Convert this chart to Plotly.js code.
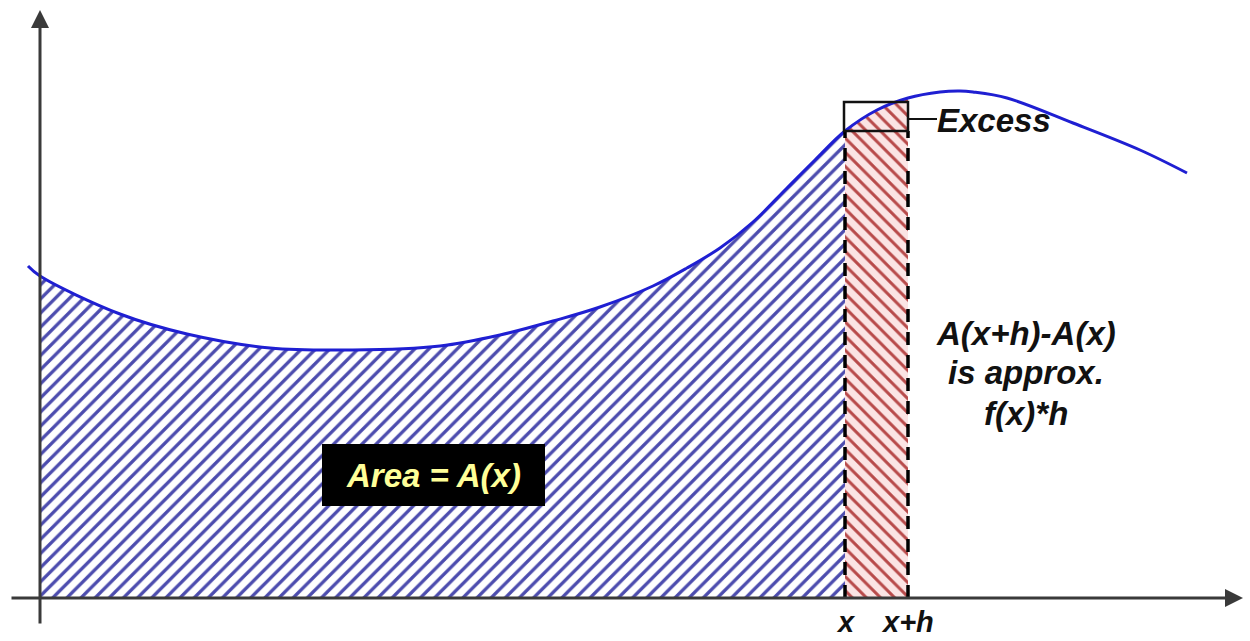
<!DOCTYPE html>
<html>
<head>
<meta charset="utf-8">
<script src="https://cdn.plot.ly/plotly-3.0.1.min.js"></script>
<style>html,body{margin:0;padding:0;background:#fff;}#chart{width:1250px;height:641px;}</style>
</head>
<body>
<div id="chart"></div>
<script>
// Curve f(x) (x from the y-axis, y above the x-axis)
const curveX = [-12, 0, 80, 147, 230, 313, 400, 460, 513, 560, 613, 647, 680, 713, 747, 775, 805, 837, 868, 900, 920, 933, 967, 1033, 1100, 1147];
const curveY = [332, 322, 284, 264, 250, 248, 252, 263, 277, 291, 312, 330, 350, 376, 410, 438, 467, 488, 500, 506, 507, 506, 500, 475, 448, 425];
const xPos = 805;      // x
const xhPos = 868;     // x+h
const fAtX = 467;      // f(x)
const excessTop = 496; // top of the excess box
const tickLabels = ['x', 'x+h'];
const labels = {
  area: 'Area = A(x)',
  excess: 'Excess',
  diff: ['A(x+h)-A(x)', 'is approx.', 'f(x)*h']
};

const iX = curveX.indexOf(xPos);
const iXH = curveX.indexOf(xhPos);

const FONT = 'Liberation Sans, Arial, sans-serif';
const traces = [
  {
    x: curveX.slice(1, iX + 1), y: curveY.slice(1, iX + 1),
    type: 'scatter', mode: 'lines', line: {width: 0, shape: 'spline'},
    fill: 'tozeroy', fillcolor: 'white',
    fillpattern: {shape: '/', fgcolor: '#4c4cae', bgcolor: '#ffffff', size: 10, solidity: 0.33},
    hoverinfo: 'skip'
  },
  {
    x: curveX.slice(iX, iXH + 1), y: curveY.slice(iX, iXH + 1),
    type: 'scatter', mode: 'lines', line: {width: 0, shape: 'spline'},
    fill: 'tozeroy', fillcolor: '#fbe4e4',
    fillpattern: {shape: '\\', fgcolor: '#b84a4a', bgcolor: '#fbe4e4', size: 10, solidity: 0.3},
    hoverinfo: 'skip'
  },
  {
    x: curveX, y: curveY,
    type: 'scatter', mode: 'lines', line: {color: '#1f1fd2', width: 3, shape: 'spline'},
    hoverinfo: 'skip'
  }
];

const txt = (s, x, y, size, color, xanchor) => ({
  text: '<b><i>' + s + '</i></b>', x: x, y: y, xref: 'x', yref: 'y', showarrow: false,
  xanchor: xanchor || 'center', yanchor: 'middle',
  font: {family: FONT, size: size, color: color || '#111'}
});

const annotations = [
  // axes with arrowheads
  {x: 0, y: 588, ax: 0, ay: -27, xref: 'x', yref: 'y', axref: 'x', ayref: 'y', text: '',
   showarrow: true, arrowhead: 2, arrowsize: 1.2, arrowwidth: 3, arrowcolor: '#3a3a3a'},
  {x: 1203, y: 0, ax: -30, ay: 0, xref: 'x', yref: 'y', axref: 'x', ayref: 'y', text: '',
   showarrow: true, arrowhead: 2, arrowsize: 1.2, arrowwidth: 3, arrowcolor: '#3a3a3a'},
  txt(labels.area, 393, 123, 33, '#ffff99'),
  txt(labels.excess, 895, 478, 33, '#111', 'left'),
  txt(labels.diff[0], 986, 265, 33),
  txt(labels.diff[1], 986, 226, 33),
  txt(labels.diff[2], 986, 185, 33),
  txt(tickLabels[0], xPos + 1, -24, 29),
  txt(tickLabels[1], xhPos - 1, -24, 29)
];

const shapes = [
  {type: 'line', xref: 'x', yref: 'y', x0: xPos, x1: xPos, y0: 0, y1: fAtX, line: {color: '#000', width: 3.5, dash: '13px,10px'}},
  {type: 'line', xref: 'x', yref: 'y', x0: xhPos, x1: xhPos, y0: 0, y1: fAtX, line: {color: '#000', width: 3.5, dash: '13px,10px'}},
  {type: 'rect', xref: 'x', yref: 'y', x0: xPos - 1, x1: xhPos, y0: fAtX, y1: excessTop, line: {color: '#111', width: 2.5}},
  {type: 'line', xref: 'x', yref: 'y', x0: xhPos, x1: 897, y0: 479, y1: 479, line: {color: '#111', width: 2}},
  {type: 'rect', xref: 'x', yref: 'y', x0: 282, x1: 505, y0: 92, y1: 154, fillcolor: '#000', line: {width: 0}}
];

const layout = {
  width: 1250, height: 641,
  margin: {l: 0, r: 0, t: 0, b: 0},
  paper_bgcolor: '#fff', plot_bgcolor: '#fff',
  showlegend: false,
  xaxis: {range: [-40, 1210], visible: false, fixedrange: true},
  yaxis: {range: [-43, 598], visible: false, fixedrange: true},
  shapes: shapes,
  annotations: annotations
};

Plotly.newPlot('chart', traces, layout, {staticPlot: true, displayModeBar: false});
</script>
</body>
</html>
